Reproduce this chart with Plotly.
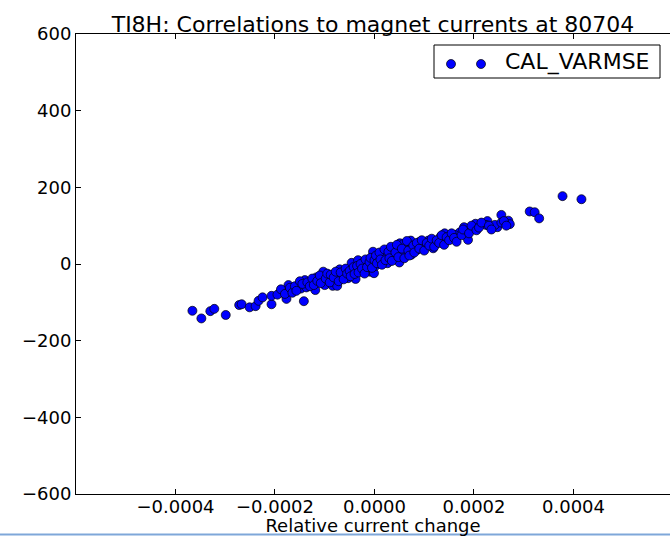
import plotly.graph_objects as go

# Relative current change (x) and CAL_VARMSE correlation (y)
rel_change = [
    -0.000366, -0.000348, -0.000330, -0.000322, -0.000299, -0.000272, -0.000267, -0.000251,
    -0.000239, -0.000233, -0.000225, -0.000207, -0.000207, -0.000190, -0.000185, -0.000177,
    -0.000177, -0.000173, -0.000163, -0.000153, -0.000148, -0.000142, -0.000140, -0.000137,
    -0.000127, -0.000119, -0.000117, -0.000103, -0.000101, -0.000100, -0.000093, -0.000084,
    -0.000080, -0.000075, -0.000070, -0.000066, -0.000060, -0.000053, -0.000046, -0.000043,
    -0.000038, -0.000033, -0.000030, -0.000026, -0.000021, -0.000013, -0.000009, -0.000003,
    -0.000003, -0.000001, 0.000002, 0.000007, 0.000017, 0.000024, 0.000026, 0.000038,
    0.000040, 0.000050, 0.000051, 0.000058, 0.000061, 0.000073, 0.000074, 0.000086,
    0.000091,
    0.000378, 0.000416, 0.000312, 0.000322, 0.000331, 0.000255, 0.000269, 0.000272,
    0.000247, 0.000242, 0.000227, 0.000224, 0.000203, 0.000198, 0.000180, 0.000185,
    0.000171, 0.000161, 0.000141, 0.000148, 0.000133, 0.000121, 0.000108, 0.000098,
    0.000138, 0.000188, 0.000058, 0.000081, 0.000118,
    -0.000195, -0.000188, -0.000180, -0.000170, -0.000165, -0.000160, -0.000157, -0.000150,
    -0.000145, -0.000135, -0.000130, -0.000125, -0.000122, -0.000115, -0.000110, -0.000108,
    -0.000098, -0.000095, -0.000090, -0.000088, -0.000082, -0.000078, -0.000072, -0.000068,
    -0.000062, -0.000058, -0.000055, -0.000050, -0.000048, -0.000042, -0.000040, -0.000035,
    -0.000032, -0.000028, -0.000025, -0.000020, -0.000018, -0.000015, -0.000010, -0.000008,
    -0.000005, 0.000000, 0.000003, 0.000005, 0.000010, 0.000012, 0.000015, 0.000020,
    0.000022, 0.000028, 0.000030, 0.000033, 0.000035, 0.000042, 0.000045, 0.000048,
    0.000055, 0.000060, 0.000065, 0.000068, 0.000070, 0.000078, 0.000080, 0.000085,
    0.000090, 0.000095, 0.000100, 0.000105, 0.000110, 0.000115, 0.000120, 0.000125,
    0.000130, 0.000135, 0.000140, 0.000145, 0.000150, 0.000155, 0.000160, 0.000165,
    0.000175, 0.000178, 0.000190, 0.000195, 0.000205, 0.000210, 0.000215, 0.000230,
    0.000235, 0.000255, 0.000260, 0.000265,
]
cal_varmse = [
    -122, -142, -123, -117, -133, -107, -105, -113,
    -110, -96, -87, -105, -83, -75, -70, -91,
    -72, -55, -68, -55, -64, -97, -42, -61,
    -46, -68, -35, -20, -42, -55, -33, -57,
    -42, -57, -14, -31, -29, -37, 3, -20,
    -39, 10, -16, -7, 6, 2, -20, 32,
    6, -24, -5, 15, 28, 19, 2, 41,
    24, 4, 54, 28, 50, 61, 24, 37,
    58,
    177, 169, 137, 135, 119, 128, 113, 104,
    96, 102, 112, 102, 105, 91, 96, 82,
    82, 76, 80, 67, 71, 58, 61, 47,
    56, 63, 52, 45, 41,
    -80, -66, -78, -62, -75, -58, -70, -45,
    -52, -48, -58, -38, -55, -44, -30, -50,
    -38, -25, -48, -28, -35, -20, -45, -22,
    -40, -12, -25, -18, -32, -8, -26, -5,
    -22, 0, -12, -25, 12, -8, 5, 16,
    -10, 10, 22, 2, 30, 12, -2, 38,
    10, 32, 15, 45, 8, 30, 50, 18,
    40, 15, 60, 35, 22, 48, 30, 55,
    40, 62, 35, 55, 48, 66, 45, 62,
    55, 75, 50, 70, 62, 80, 68, 58,
    75, 90, 80, 100, 88, 95, 108, 100,
    90, 108, 112, 100,
]

x_ticks = [-0.0004, -0.0002, 0.0, 0.0002, 0.0004]
y_ticks = [-600, -400, -200, 0, 200, 400, 600]
title_text = "TI8H: Correlations to magnet currents at 80704"
x_title = "Relative current change"
series_name = "CAL_VARMSE"

FONT = "DejaVu Sans"
BLUE = "#0000ff"

fig = go.Figure()
fig.add_trace(go.Scatter(
    x=rel_change, y=cal_varmse, mode="markers", name=series_name, showlegend=False,
    marker=dict(color=BLUE, size=9, line=dict(color="#000000", width=0.7)),
))

fig.update_layout(
    width=670, height=536,
    margin=dict(l=76, r=0, t=34, b=42),
    paper_bgcolor="white", plot_bgcolor="white",
    font=dict(family=FONT, size=18, color="black"),
    title=dict(text=title_text, font=dict(family=FONT, size=22, color="black"),
               x=(76 + 670) / 2 / 670, xanchor="center", xref="container",
               y=1 - 24 / 536, yanchor="middle", yref="container"),
    showlegend=False,
    xaxis=dict(range=[-0.0006, 0.000594], tickvals=x_ticks, tickformat=".4f",
               showgrid=False, zeroline=False, showline=True, linecolor="black",
               linewidth=1, mirror="ticks", ticks="inside", ticklen=5,
               tickcolor="black", ticklabelstandoff=-4,
               tickfont=dict(family=FONT, size=18, color="black"),
               title=dict(text=x_title, font=dict(family=FONT, size=18, color="black"),
                          standoff=6)),
    yaxis=dict(range=[-600, 600], tickvals=y_ticks,
               showgrid=False, zeroline=False, showline=True, linecolor="black",
               linewidth=1, ticks="inside", ticklen=5, tickcolor="black",
               tickfont=dict(family=FONT, size=18, color="black")),
)

# legend box drawn in matplotlib style (two sample markers + label)
def px_x(p):
    return (p - 76) / 594

def px_y(p):
    return (494 - p) / 460

fig.add_shape(type="rect", xref="paper", yref="paper",
              x0=px_x(434), x1=px_x(660), y0=px_y(78), y1=px_y(45),
              line=dict(color="black", width=1), fillcolor="white", layer="above")
for cx in (451, 481):
    fig.add_shape(type="circle", xref="paper", yref="paper",
                  xsizemode="pixel", ysizemode="pixel",
                  xanchor=px_x(cx), yanchor=px_y(64),
                  x0=-4.5, x1=4.5, y0=-4.5, y1=4.5,
                  fillcolor=BLUE, line=dict(color="black", width=0.7), layer="above")
fig.add_annotation(text=series_name, xref="paper", yref="paper",
                   x=px_x(503), y=px_y(62), xanchor="left", yanchor="middle",
                   showarrow=False, font=dict(family=FONT, size=22, color="black"))

# light blue rule along the bottom edge of the picture
fig.add_shape(type="line", xref="paper", yref="paper",
              x0=-76 / 594, x1=1.0, y0=px_y(534.5), y1=px_y(534.5),
              line=dict(color="#7fa7d9", width=2), layer="above")

fig.write_html("out.html")
